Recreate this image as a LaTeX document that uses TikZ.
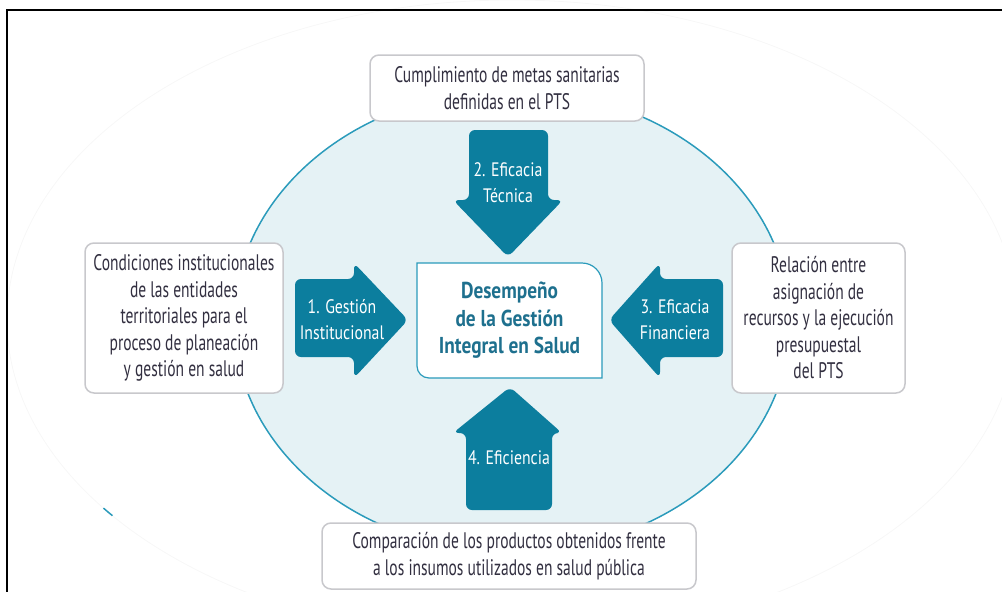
\documentclass[tikz,border=0pt]{standalone}
\usepackage{fontspec}
\setmainfont{PT Sans}[FakeStretch=0.69]
\newfontfamily\arrowfamily{PT Sans}[FakeStretch=0.81]
\newfontfamily\corefamily{PT Sans}[FakeStretch=0.84]
\definecolor{ringfill}{RGB}{229,242,245}
\definecolor{ringline}{RGB}{43,155,187}
\definecolor{arrowteal}{RGB}{12,126,158}
\definecolor{coretext}{RGB}{30,112,142}
\definecolor{boxline}{RGB}{200,200,204}
\definecolor{boxtext}{RGB}{50,47,64}
\newcommand\boxfont{\fontsize{22.5}{26.5}\selectfont}
\newcommand\arrowfont{\arrowfamily\fontsize{19.5}{26}\selectfont}
\newcommand\corefont{\corefamily\bfseries\fontsize{23}{27.5}\selectfont}

\tikzset{
  infobox/.style={draw=boxline, line width=1.5pt, fill=white, rounded corners=9pt,
    align=center, text=boxtext, font=\boxfont, inner sep=0pt},
  arrowlabel/.style={text=white, align=center, font=\arrowfont, inner sep=0pt},
  bigarrow/.style={fill=arrowteal, rounded corners=6pt},
}

\begin{document}
\begin{tikzpicture}[x=1pt,y=-1pt]
\useasboundingbox (0,0) rectangle (1002,592);
\draw[black!3, line width=0.8pt] (512,320) ellipse [x radius=505, y radius=320];
\draw[line width=2pt] (7,600) -- (7,10) -- (1010,10);
\draw[ringline, line width=1.5pt] (512,320) ++(142.3:505 and 320) arc[start angle=142.3, end angle=144, x radius=505, y radius=320];
\draw[ringline, fill=ringfill, line width=1.5pt] (512,321) ellipse [x radius=278, y radius=231];

\node[infobox, minimum width=274, minimum height=66] (goals) at (507,88)
  {Cumplimiento de metas sanitarias\\definidas en el PTS};
\node[infobox, minimum width=198, minimum height=150] (inst) at (184,318)
  {Condiciones institucionales\\de las entidades\\territoriales para el\\proceso de planeación\\y gestión en salud};
\node[infobox, minimum width=173, minimum height=150] (budget) at (818.5,318)
  {Relación entre\\asignación de\\recursos y la ejecución\\presupuestal\\del PTS};
\node[infobox, minimum width=374, minimum height=66] (inputs) at (509,556)
  {Comparación de los productos obtenidos frente\\a los insumos utilizados en salud pública};

\fill[bigarrow] (469,130) -- (548,130) -- (548,200) -- (563,200) -- (508,257) -- (453,200) -- (469,200) -- cycle;
\fill[bigarrow] (295,279) -- (354,279) -- (354,263) -- (408,320) -- (354,378) -- (354,357) -- (295,357) -- cycle;
\fill[bigarrow] (723,279) -- (660,279) -- (660,263) -- (609,320) -- (660,378) -- (660,357) -- (723,357) -- cycle;
\fill[bigarrow] (466,510) -- (552,510) -- (552,433) -- (562,433) -- (510,387) -- (453,433) -- (466,433) -- cycle;

\node[arrowlabel] (technical) at (508,183) {2. Eficacia\\Técnica};
\node[arrowlabel] (management) at (342,320) {1. Gestión\\Institucional};
\node[arrowlabel] (financial) at (675,320) {3. Eficacia\\Financiera};
\node[arrowlabel] (efficiency) at (509,458) {4. Eficiencia};

\draw[ringline, fill=white, line width=1.2pt] (417,263) -- (582,263) arc[start angle=-90, end angle=0, radius=20]
  -- (602,378) -- (429,378) arc[start angle=90, end angle=180, radius=12] -- cycle;
\node[font=\corefont, text=coretext, align=center] (core) at (509.5,320.5)
  {Desempeño\\de la Gestión\\Integral en Salud};
\end{tikzpicture}
\end{document}
